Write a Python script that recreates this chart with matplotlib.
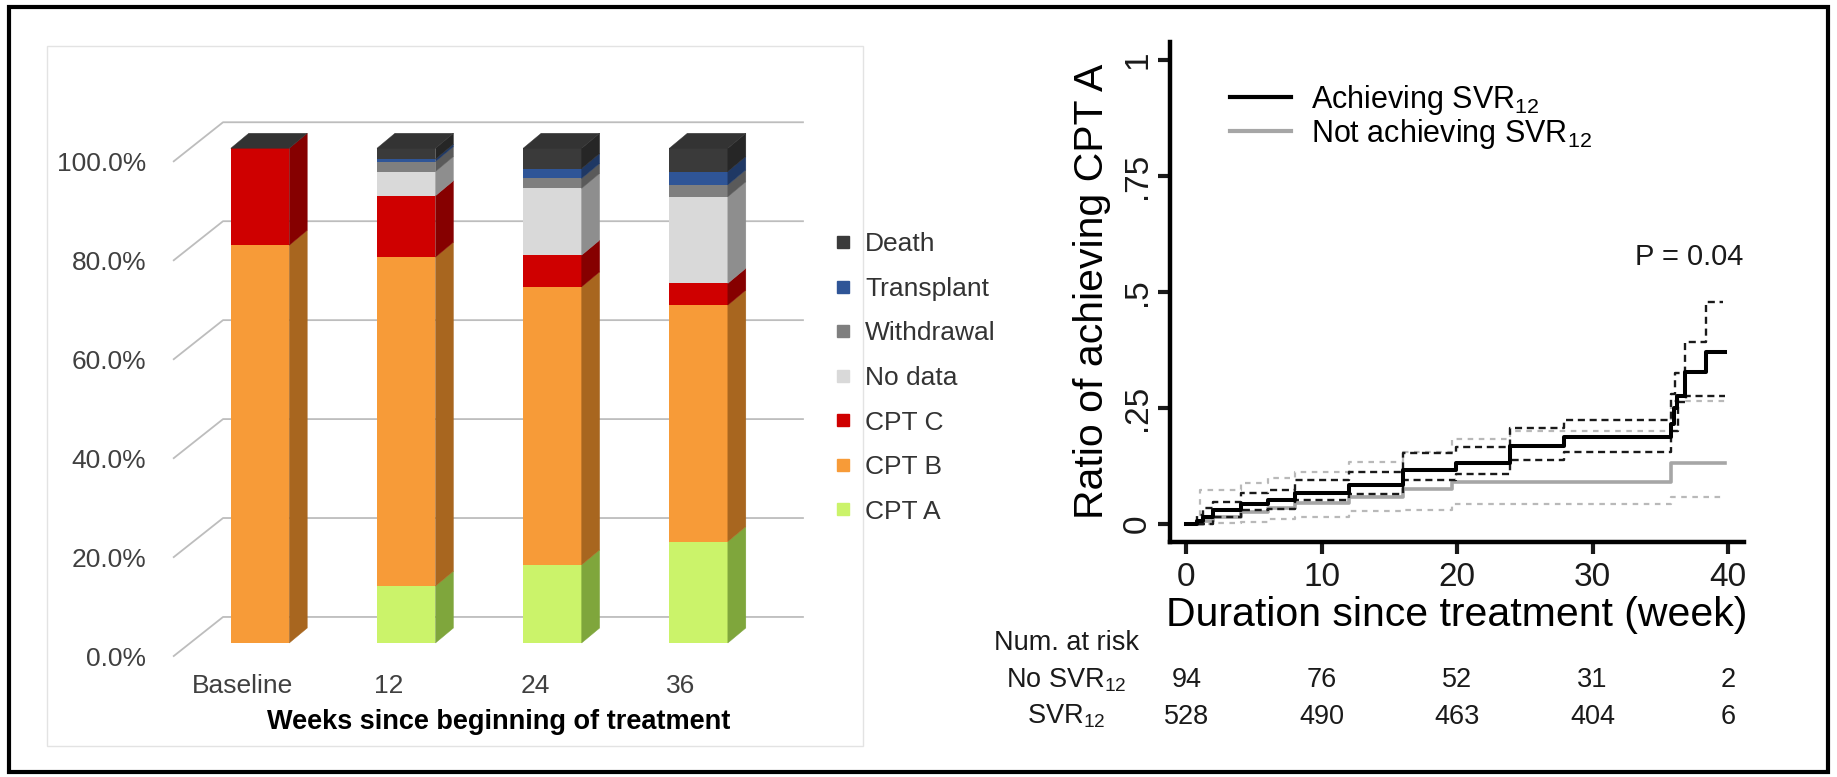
import matplotlib.pyplot as plt
import numpy as np
from matplotlib.lines import Line2D
from matplotlib.patches import Polygon, Rectangle
from matplotlib import transforms

plt.rcParams['font.family'] = ['Liberation Sans', 'DejaVu Sans']

# ---- left panel: Child-Pugh class over time (%) ----
visits = ['Baseline', '12', '24', '36']
cpt_a = [0.0, 11.5, 15.8, 20.5]
cpt_b = [80.4, 66.5, 56.2, 47.8]
cpt_c = [19.6, 12.4, 6.4, 4.4]
no_data = [0.0, 4.9, 13.5, 17.5]
withdrawal = [0.0, 2.0, 2.0, 2.4]
transplant = [0.0, 0.5, 2.0, 2.7]
death = [0.0, 2.2, 4.1, 4.7]
pct_ticks = [0, 20, 40, 60, 80, 100]

# ---- right panel: cumulative ratio of achieving CPT A ----
wk_svr = [0, 0.8, 1.2, 2.0, 4.0, 6.0, 8.0, 12.0, 16.0, 19.9, 23.9, 27.9, 35.8, 36.0, 36.2, 36.8, 38.4, 39.8]
km_svr = [0, 0.006, 0.015, 0.030, 0.042, 0.052, 0.066, 0.083, 0.116, 0.131, 0.167, 0.187, 0.215, 0.250, 0.275, 0.328, 0.371, 0.371]
wk_svr_hi = [0, 0.8, 1.2, 2.0, 4.0, 6.0, 8.0, 12.0, 16.0, 19.9, 23.9, 27.9, 35.8, 36.1, 36.8, 38.4, 39.6]
ci_svr_hi = [0, 0.020, 0.035, 0.048, 0.066, 0.073, 0.095, 0.113, 0.154, 0.165, 0.206, 0.224, 0.280, 0.325, 0.393, 0.479, 0.479]
wk_svr_lo = [0, 2.0, 4.0, 6.0, 8.0, 12.0, 16.0, 19.9, 23.9, 27.9, 35.8, 36.3, 36.9, 39.8]
ci_svr_lo = [0, 0.016, 0.029, 0.033, 0.052, 0.065, 0.095, 0.108, 0.138, 0.156, 0.200, 0.262, 0.275, 0.275]

wk_no = [0, 1.2, 2.0, 4.0, 6.0, 8.0, 12.0, 16.0, 19.6, 35.8, 39.8]
km_no = [0, 0.006, 0.016, 0.025, 0.034, 0.046, 0.057, 0.075, 0.091, 0.131, 0.131]
wk_no_hi = [0, 1.0, 4.0, 6.0, 8.0, 12.0, 16.0, 19.6, 23.9, 35.8, 39.8]
ci_no_hi = [0, 0.073, 0.088, 0.098, 0.113, 0.133, 0.156, 0.183, 0.200, 0.265, 0.265]
wk_no_lo = [0, 2.0, 4.0, 6.0, 8.0, 12.0, 16.0, 19.6, 35.8, 39.8]
ci_no_lo = [0, 0.002, 0.005, 0.010, 0.016, 0.027, 0.030, 0.043, 0.059, 0.059]

risk_weeks = [0, 10, 20, 30, 40]
risk_no_svr = [94, 76, 52, 31, 2]
risk_svr = [528, 490, 463, 404, 6]

fig = plt.figure(figsize=(18.37, 7.77), dpi=100)

# outer frame and the light chart-area border of the left chart
fig.patches.append(Rectangle((0.00517, 0.00644), 0.98966, 0.98391, transform=fig.transFigure,
                             fill=False, lw=3, ec='black'))
fig.patches.append(Rectangle((0.02559, 0.04015), 0.44404, 0.90116, transform=fig.transFigure,
                             fill=False, lw=1, ec='#e3e3e3'))

ax1 = fig.add_axes([0.08274, 0.14414, 0.37714, 0.74144])
ax1.set_xlim(-0.739, 4.0)
ax1.set_ylim(-4.45, 112)
for s in ax1.spines.values():
    s.set_visible(False)

BAR_W = 0.4
DX, DY = 0.123, 3.03          # bar depth
FX, FY = -0.12, -2.75         # front edge of the floor
WX, WY = 0.222, 5.26          # back wall
WALL_LEFT, WALL_RIGHT = -0.595, 3.72

for p in pct_ticks:
    ax1.plot([WALL_LEFT, WALL_LEFT + 0.342, WALL_RIGHT], [p + FY, p + WY, p + WY],
             color='#bdbdbd', lw=1.3, zorder=1, solid_capstyle='butt')

series = [
    ('CPT A', cpt_a, '#cbf36a', '#7fa63c'),
    ('CPT B', cpt_b, '#f79b38', '#a8661f'),
    ('CPT C', cpt_c, '#cf0000', '#860000'),
    ('No data', no_data, '#d9d9d9', '#8e8e8e'),
    ('Withdrawal', withdrawal, '#7f7f7f', '#5a5a5a'),
    ('Transplant', transplant, '#2f5597', '#1f3864'),
    ('Death', death, '#3a3a3a', '#262626'),
]

centers = np.arange(len(visits))
bottoms = np.zeros(len(visits))
for name, vals, front, side in series:
    vals = np.array(vals)
    ax1.bar(centers, vals, BAR_W, bottom=bottoms, color=front, zorder=3, lw=0)
    for c, b, v in zip(centers, bottoms, vals):
        if v <= 0:
            continue
        x = c + BAR_W / 2
        ax1.add_patch(Polygon([(x, b), (x + DX, b + DY), (x + DX, b + v + DY), (x, b + v)],
                              closed=True, fc=side, ec=side, lw=0.3, zorder=3))
    bottoms = bottoms + vals

for c, top in zip(centers, bottoms):
    x0 = c - BAR_W / 2
    ax1.add_patch(Polygon([(x0, top), (x0 + BAR_W, top), (x0 + BAR_W + DX, top + DY), (x0 + DX, top + DY)],
                          closed=True, fc='#333333', ec='#333333', lw=0.3, zorder=4))

ax1.set_yticks([p + FY for p in pct_ticks])
ax1.set_yticklabels([f'{p:.1f}%' for p in pct_ticks], fontsize=19, color='#404040')
ax1.set_xticks(centers + FX)
ax1.set_xticklabels(visits, fontsize=19, color='#404040')
ax1.tick_params(length=0)
ax1.tick_params(axis='y', pad=4)
ax1.tick_params(axis='x', pad=6.5)
ax1.set_xlabel('Weeks since beginning of treatment', fontsize=19.5, fontweight='bold', labelpad=8)

handles = [Line2D([], [], ls='', marker='s', markersize=8, color=f) for _, _, f, _ in series[::-1]]
labels = [n for n, _, _, _ in series[::-1]]
fig.legend(handles, labels, loc='upper left', bbox_to_anchor=(0.4545, 0.7012), frameon=False,
           fontsize=19, handlelength=0.6, handletextpad=0.55, labelspacing=0.78, borderpad=0,
           borderaxespad=0, labelcolor='#333333')

# ---- right panel ----
ax2 = fig.add_axes([0.6369, 0.3030, 0.3125, 0.6430])
ax2.set_xlim(-1.21, 41.18)
ax2.set_ylim(-0.038, 1.039)
for side in ['top', 'right']:
    ax2.spines[side].set_visible(False)
for side in ['left', 'bottom']:
    ax2.spines[side].set_linewidth(3.2)

dash_k = (0, (3.0, 2.0))
dash_g = (0, (2.5, 2.5))
ax2.step(wk_no_hi, ci_no_hi, where='post', color='#b9b9b9', lw=1.6, ls=dash_g)
ax2.step(wk_no_lo, ci_no_lo, where='post', color='#b9b9b9', lw=1.6, ls=dash_g)
ax2.step(wk_no, km_no, where='post', color='#a6a6a6', lw=2.6)
ax2.step(wk_svr_hi, ci_svr_hi, where='post', color='#1a1a1a', lw=1.7, ls=dash_k)
ax2.step(wk_svr_lo, ci_svr_lo, where='post', color='#1a1a1a', lw=1.7, ls=dash_k)
ax2.step(wk_svr, km_svr, where='post', color='black', lw=2.9)

ax2.set_xticks([0, 10, 20, 30, 40])
ax2.set_yticks([0, 0.25, 0.5, 0.75, 1])
ax2.set_yticklabels(['0', '.25', '.5', '.75', '1'], rotation=90, va='center')
ax2.tick_params(labelsize=24, length=8.6, width=3, colors='#1a1a1a')
ax2.tick_params(axis='x', pad=6)
ax2.tick_params(axis='y', pad=3.5)
ax2.set_ylabel('Ratio of achieving CPT A', fontsize=29.5, labelpad=8)
ax2.set_xlabel('Duration since treatment (week)', fontsize=29.5, labelpad=2)

leg = ax2.legend([Line2D([], [], color='black', lw=3), Line2D([], [], color='#a6a6a6', lw=3)],
                 [r'Achieving $\mathregular{SVR_{12}}$', r'Not achieving $\mathregular{SVR_{12}}$'],
                 loc='upper left', bbox_to_anchor=(0.6696, 0.8931), bbox_transform=fig.transFigure,
                 frameon=False, fontsize=22, handlelength=2.0, handletextpad=0.65,
                 labelspacing=0.0, borderpad=0, borderaxespad=0)

ax2.text(41.1, 0.576, 'P = 0.04', ha='right', va='center', fontsize=21, color='#1a1a1a')

# number at risk table under the x axis
risk_tr = transforms.blended_transform_factory(ax2.transData, fig.transFigure)
fig.text(0.5803, 0.1729, 'Num. at risk', ha='center', va='center', fontsize=19.5, color='#1a1a1a')
fig.text(0.5803, 0.1248, r'No $\mathregular{SVR_{12}}$', ha='center', va='center', fontsize=19.5, color='#1a1a1a')
fig.text(0.5803, 0.0776, r'$\mathregular{SVR_{12}}$', ha='center', va='center', fontsize=19.5, color='#1a1a1a')
for w, n1, n2 in zip(risk_weeks, risk_no_svr, risk_svr):
    ax2.text(w, 0.1248, str(n1), transform=risk_tr, ha='center', va='center', fontsize=19.5, color='#1a1a1a')
    ax2.text(w, 0.0776, str(n2), transform=risk_tr, ha='center', va='center', fontsize=19.5, color='#1a1a1a')

fig.savefig('out.png', dpi=100)
